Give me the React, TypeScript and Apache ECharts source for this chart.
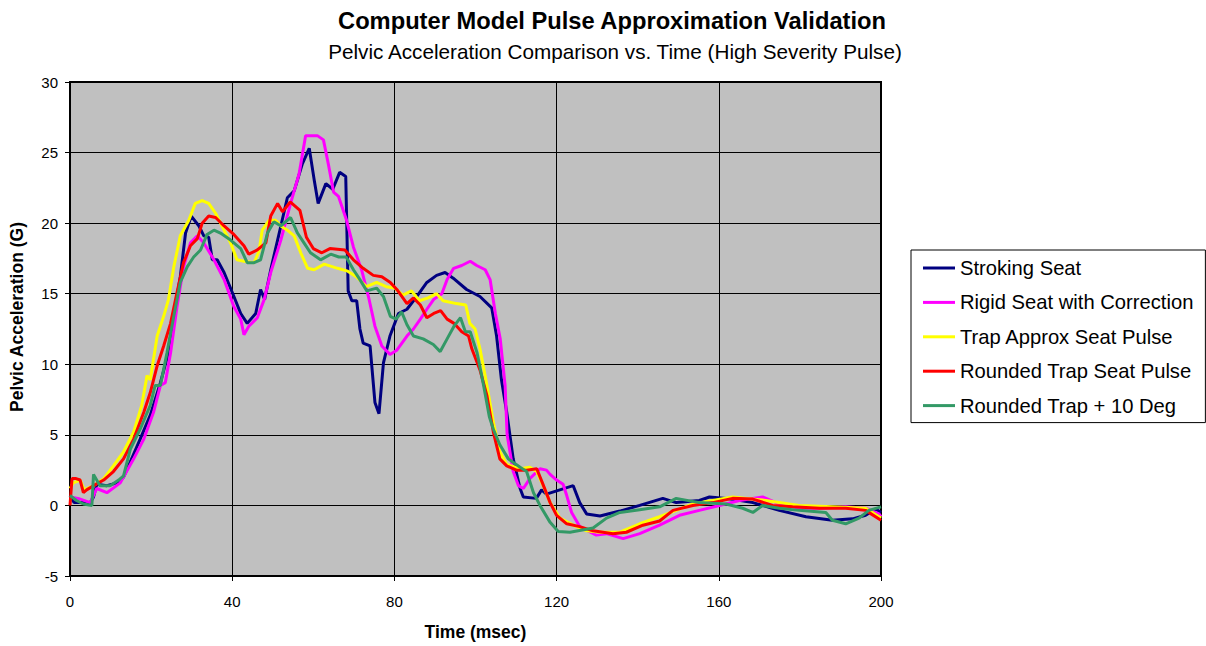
import React, { useEffect, useRef } from "react";
import * as echarts from "echarts";

const seriesNames = [
  "Stroking Seat",
  "Rigid Seat with Correction",
  "Trap Approx Seat Pulse",
  "Rounded Trap Seat Pulse",
  "Rounded Trap + 10 Deg",
];

const seriesColors = ["#000080", "#FF00FF", "#FFFF00", "#FF0000", "#339966"];

const xTicks = [0, 40, 80, 120, 160, 200];
const yTicks = [-5, 0, 5, 10, 15, 20, 25, 30];

// [time (msec), acceleration (G)]
const strokingSeat = [
  [0, 0.7], [1, 0.2], [5, 0.2], [5.8, 0.6], [6.6, 1.5], [9.1, 1.4], [11.6, 1.6], [13.2, 2], [14.9, 3.1],
  [17.3, 4.7], [19.8, 6.4], [22.3, 8.7], [23.9, 10.4], [25.6, 13.4], [27.2, 16.2], [28.5, 19.3], [29.9, 20.5],
  [31.8, 19.8], [33, 19.1], [34.2, 19], [35.1, 17.4], [36.3, 17.4], [38, 16.5], [40, 15.1], [42.1, 13.6],
  [43.7, 12.9], [45.8, 13.6], [47, 15.3], [48, 14.6], [49.5, 16.7], [52, 19.8], [53.6, 21.8], [55.3, 22.3],
  [57.3, 24.2], [59, 25.3], [60.2, 23.1], [61.2, 21.4], [63.1, 22.8], [64.8, 22.4], [66.5, 23.6], [68, 23.3],
  [68.6, 15.2], [69.5, 14.5], [70.7, 14.5], [71.5, 12.5], [72.3, 11.5], [74, 11.3], [75.2, 7.3], [76.2, 6.5],
  [77.3, 10.1], [78.9, 12], [81, 13.6], [83.1, 13.9], [85.5, 14.8], [88, 15.8], [90.4, 16.3], [92.5, 16.5],
  [94.5, 16.1], [97.8, 15.3], [101.1, 14.8], [104, 14], [105.2, 12], [106.4, 8.9], [107.7, 6.6], [109.3, 3.3],
  [111, 1.2], [111.8, 0.6], [115, 0.5], [116.3, 1.1], [117.5, 0.8], [120.8, 1.1], [124.1, 1.4], [125.7, 0.2],
  [127.4, -0.6], [130.7, -0.75], [135.6, -0.4], [140.5, 0], [146.2, 0.5], [149.5, 0.2], [155.2, 0.35],
  [157.7, 0.6], [161.8, 0.5], [168.4, 0.2], [174.9, -0.35], [181.5, -0.8], [188, -1.05], [193, -0.95],
  [196.2, -0.7], [198.7, -0.25], [200, -0.5],
];

const rigidSeat = [
  [0, 0.6], [2, 0.5], [5, 0.2], [6.6, 1.2], [9.1, 0.9], [12.4, 1.6], [15.7, 3.3], [18.2, 4.7], [20.6, 6.6],
  [22.3, 8.5], [23.5, 8.7], [24.8, 10.8], [26.4, 14.1], [28, 16.9], [29.7, 18.6], [31.4, 19.1], [33, 18.6],
  [35.5, 17.4], [38, 16], [40.4, 14.1], [42.1, 13.2], [42.9, 12.1], [44.1, 12.7], [46.2, 13.3], [47.9, 14.6],
  [49.5, 16.5], [52, 18.8], [54.4, 21.4], [56.5, 23.5], [58.1, 26.2], [61, 26.2], [62.5, 25.9], [63.7, 24.2],
  [65, 22.2], [66.2, 21.9], [68.2, 20.2], [69.9, 18.3], [71.9, 16.7], [73.6, 14.8], [75.2, 12.7], [76.9, 11.3],
  [78.9, 10.7], [80.6, 11], [83.1, 12], [84.7, 12.5], [86.4, 13.2], [88, 13.9], [89.7, 14.6], [91.7, 15],
  [93, 16], [94.6, 16.8], [96.6, 17], [98.7, 17.3], [100.3, 17], [102.4, 16.7], [103.6, 16], [104.9, 13.6],
  [106.1, 11.8], [107.3, 8.5], [107.8, 5], [109.3, 2.4], [110.6, 1.4], [111.8, 1.2], [113.4, 1.9],
  [115.9, 2.6], [117.5, 2.5], [118.4, 2.2], [120, 1.8], [121.6, 1.5], [122.5, 0.7], [123.7, -0.5],
  [125.7, -1.5], [129.8, -2.1], [132.3, -2], [136.4, -2.35], [140.5, -2], [145.4, -1.4], [150.3, -0.7],
  [155.2, -0.35], [160.2, 0], [165.1, 0.35], [170.8, 0.6], [174.1, 0.2], [179.8, -0.2], [184.8, -0.2],
  [191.3, -0.1], [196.2, -0.2], [199.5, -0.6], [200, -0.8],
];

const trapApprox = [
  [0, 1.2], [0.8, 1.6], [2.5, 1.8], [3.5, 1.1], [5.8, 1.4], [8.3, 1.9], [10.7, 2.8], [13.2, 3.8], [15.7, 5.2],
  [17.7, 7.1], [19, 9.2], [19.8, 8.9], [21.5, 12], [23.1, 13.4], [24.3, 14.6], [25.6, 16.9], [27.2, 19.1],
  [29.3, 20.2], [30.9, 21.4], [32.6, 21.6], [34.2, 21.4], [35.9, 20.7], [38, 19.5], [39.6, 18.6], [41.2, 17.4],
  [42.9, 17.3], [45.4, 17.2], [46.6, 18], [47.4, 19.5], [49.1, 20.2], [50.7, 20.2], [52, 19.8], [53.6, 19.5],
  [55.3, 19.1], [56.9, 17.9], [58.6, 16.8], [60.2, 16.7], [62.7, 17.1], [66, 16.8], [68.5, 16.6],
  [70.6, 16.2], [73.1, 15.5], [75.6, 15.8], [78, 15.5], [80.1, 15.4], [82.1, 14.9], [84.2, 15.2], [86.2, 14.5],
  [88.3, 14.7], [90.4, 15], [92, 14.5], [95.3, 14.3], [97.6, 14.2], [98.6, 12.9], [99.9, 12.5], [101.1, 11.1],
  [102.7, 8.7], [104.4, 5.9], [106, 3.8], [107.7, 2.9], [111, 2.6], [113.4, 2.7], [115.1, 2.4], [116.7, 1.4],
  [118.4, 0.2], [120.8, -0.9], [124.1, -1.4], [127.4, -1.8], [130.7, -1.9], [135.6, -1.9], [140.5, -1.3],
  [145.4, -0.8], [153.6, 0.1], [163.4, 0.6], [171.6, 0.35], [179.8, 0], [188, -0.1], [196.2, -0.2], [200, -0.9],
];

const roundedTrap = [
  [0, 0], [0.5, 1.9], [1.5, 1.9], [2.5, 1.8], [3.3, 0.9], [4.1, 1.1], [5.8, 1.4], [8.3, 1.8], [10.7, 2.4],
  [13.2, 3.3], [15.7, 4.7], [18.2, 6.6], [19.8, 8], [21.5, 9.9], [23.1, 11.3], [24.8, 12.9], [26.4, 15.1],
  [28, 17.2], [29.7, 18.4], [31.4, 18.9], [32.6, 20], [34.2, 20.5], [35.9, 20.4], [38, 19.8], [40.4, 19.2],
  [42.9, 18.4], [44.1, 17.8], [46.2, 18.1], [48.3, 18.6], [49.5, 20.5], [51.2, 21.4], [52.4, 20.8],
  [54.3, 21.5], [56.7, 20.9], [58.3, 19], [60, 18.2], [62.1, 17.9], [64.1, 18.2], [67.8, 18.1], [69.9, 17.4],
  [72.3, 16.8], [74.8, 16.3], [76.9, 16.2], [79, 15.8], [80.6, 15.3], [83.1, 14.3], [84.7, 14.7], [86.4, 14.2],
  [88, 13.3], [89.7, 13.6], [91.4, 13.8], [93, 13.2], [94.7, 12.9], [96.6, 12.3], [98.3, 12], [99.1, 11.1],
  [101.1, 9.6], [102.8, 7.8], [104.4, 5.2], [106, 3.3], [107.7, 2.8], [110.1, 2.5], [112.6, 2.5], [115.1, 2.6],
  [116.5, 1.6], [118.4, 0.2], [120, -0.7], [122.5, -1.3], [125.7, -1.5], [129, -1.8], [133.9, -2],
  [137.2, -1.9], [141.3, -1.4], [145.4, -1.1], [148.7, -0.35], [153.6, 0], [158.5, 0.2], [163.4, 0.5],
  [168.4, 0.45], [173.3, 0], [178.2, -0.1], [184.8, -0.2], [191.3, -0.2], [196.2, -0.35], [200, -1.05],
];

const roundedTrap10 = [
  [0, 0.7], [1.6, 0.35], [3.3, 0.1], [5.4, 0], [5.8, 2.2], [7.4, 1.4], [9.9, 1.4], [12, 1.8], [13.2, 2.1],
  [14.9, 4], [17.3, 5.4], [19.8, 7.1], [21, 8.5], [22.3, 8.5], [23.9, 10.8], [25.6, 13.4], [27.2, 15.8],
  [28.9, 16.9], [30.5, 17.6], [32.2, 18.1], [33.8, 19.2], [35.5, 19.5], [37.1, 19.3], [39.6, 18.8],
  [42.1, 18.2], [43.7, 17.2], [45.4, 17.2], [47, 17.4], [48.7, 19.3], [50.3, 20.1], [52, 19.8], [54.4, 20.4],
  [56.1, 19.3], [57.7, 18.6], [59.3, 17.9], [61.8, 17.4], [64.3, 17.8], [66.3, 17.6], [68.1, 17.6],
  [69.9, 16.7], [71.5, 16], [73.2, 15.2], [75.6, 15.4], [77.3, 14.8], [79, 13.4], [80.4, 13.2], [81.8, 13.7],
  [83.1, 12.8], [84.7, 12], [87.1, 11.8], [89.6, 11.4], [91.3, 10.9], [93, 11.8], [94.7, 12.7], [96.3, 13.3],
  [97.5, 12.3], [98.7, 12.3], [100.4, 10.8], [102, 8.5], [103.4, 6.3], [104.4, 5.4], [106, 4.3], [108.1, 3.3],
  [111, 2.7], [112.6, 2.4], [114.3, 0.9], [115.9, 0], [118.4, -1.2], [120.4, -1.85], [123.3, -1.9],
  [129, -1.6], [132.3, -0.9], [135.6, -0.5], [140.5, -0.3], [145.4, -0.1], [149.5, 0.5], [155.2, 0.2],
  [161.8, 0.1], [165.9, -0.2], [168.4, -0.5], [170.8, 0], [174.9, -0.2], [179.8, -0.35], [186.4, -0.5],
  [188, -1.05], [191.3, -1.3], [194.6, -0.9], [197, -0.35], [200, -0.1],
];

const allSeries = [strokingSeat, rigidSeat, trapApprox, roundedTrap, roundedTrap10];

const FONT = "'Liberation Sans', Arial, sans-serif";

export default function App() {
  const ref = useRef<HTMLDivElement>(null);

  useEffect(() => {
    if (!ref.current) return;
    const chart = echarts.init(ref.current, null, { renderer: "svg" });
    chart.setOption({
      animation: false,
      backgroundColor: "#ffffff",
      textStyle: { fontFamily: FONT },
      title: [
        {
          text: "Computer Model Pulse Approximation Validation",
          left: 607,
          top: 4,
          textAlign: "center",
          textStyle: { fontSize: 23.7, fontWeight: "bold", color: "#000", fontFamily: FONT },
        },
        {
          text: "Pelvic Acceleration Comparison vs. Time (High Severity Pulse)",
          left: 610,
          top: 36,
          textAlign: "center",
          textStyle: { fontSize: 20.7, fontWeight: "normal", color: "#000", fontFamily: FONT },
        },
      ],
      legend: {
        orient: "vertical",
        left: 911,
        top: 250,
        padding: [8, 12, 7, 12],
        itemGap: 14.4,
        itemWidth: 32,
        itemHeight: 3,
        icon: "rect",
        backgroundColor: "#ffffff",
        borderColor: "#000",
        borderWidth: 1,
        textStyle: { fontSize: 20.2, color: "#000", fontFamily: FONT },
        data: seriesNames,
      },
      grid: {
        left: 70,
        right: 325,
        top: 82,
        bottom: 69,
        show: true,
        backgroundColor: "#C0C0C0",
        borderColor: "#000",
        borderWidth: 2,
      },
      graphic: [
        {
          type: "text",
          x: 17,
          y: 317,
          rotation: Math.PI / 2,
          style: {
            text: "Pelvic Acceleration (G)",
            fontSize: 17.5,
            fontWeight: "bold",
            fontFamily: FONT,
            fill: "#000",
            align: "center",
            verticalAlign: "middle",
          },
        },
      ],
      xAxis: {
        type: "value",
        min: xTicks[0],
        max: xTicks[xTicks.length - 1],
        interval: 40,
        name: "Time (msec)",
        nameLocation: "middle",
        nameGap: 47,
        nameTextStyle: { fontSize: 17.5, fontWeight: "bold", color: "#000", fontFamily: FONT },
        axisLine: { show: true, onZero: false, lineStyle: { color: "#000", width: 2 } },
        axisTick: { show: true, length: 5, lineStyle: { color: "#000" } },
        axisLabel: { fontSize: 15, color: "#000", margin: 18, fontFamily: FONT },
        splitLine: { show: true, lineStyle: { color: "#000", width: 1 } },
      },
      yAxis: {
        type: "value",
        min: yTicks[0],
        max: yTicks[yTicks.length - 1],
        interval: 5,
        axisLine: { show: true, onZero: false, lineStyle: { color: "#000", width: 2 } },
        axisTick: { show: true, length: 5, lineStyle: { color: "#000" } },
        axisLabel: { fontSize: 15, color: "#000", margin: 12, fontFamily: FONT },
        splitLine: { show: true, lineStyle: { color: "#000", width: 1 } },
      },
      series: allSeries.map((data, i) => ({
        name: seriesNames[i],
        type: "line",
        data,
        showSymbol: false,
        symbol: "none",
        smooth: false,
        lineStyle: { color: seriesColors[i], width: 3 },
        itemStyle: { color: seriesColors[i] },
        z: 2 + i,
      })),
    });
    return () => chart.dispose();
  }, []);

  return (
    <div
      ref={ref}
      style={{ position: "fixed", left: 0, top: 0, width: 1206, height: 646 }}
    />
  );
}
